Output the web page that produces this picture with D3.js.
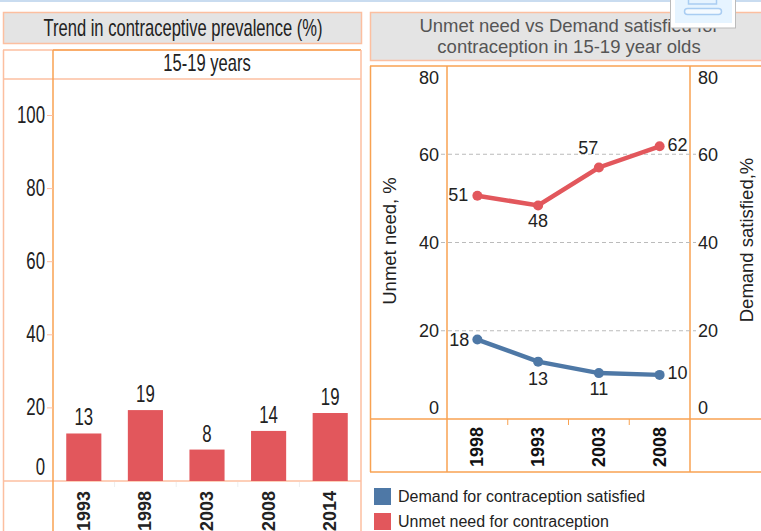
<!DOCTYPE html>
<html>
<head>
<meta charset="utf-8">
<script src="https://cdn.jsdelivr.net/npm/d3@7"></script>
<style>
html, body { margin: 0; padding: 0; background: #fff; overflow: hidden; }
text { font-family: "Liberation Sans", Arial, sans-serif; }
</style>
</head>
<body>
<div id="chart"></div>
<script>
// Left chart data
const barYears = ['1993', '1998', '2003', '2008', '2014'];
const barValues = [13, 19.4, 8.6, 13.7, 18.6];
const barLabels = ['13', '19', '8', '14', '19'];
const barTicks = [0, 20, 40, 60, 80, 100];

// Right chart data
const lineYears = ['1998', '1993', '2003', '2008'];
const unmetValues = [50.6, 48.4, 57, 61.8];
const unmetLabels = ['51', '48', '57', '62'];
const demandValues = [18, 13, 10.4, 10];
const demandLabels = ['18', '13', '11', '10'];
const lineTicks = [0, 20, 40, 60, 80];
const legendItems = ['Demand for contraception satisfied', 'Unmet need for contraception'];

const red = '#e2575c';
const blue = '#4e78a6';
const orange = '#f8a252';
const paleOrange = '#fcbfa0';
const grey = '#e4e4e4';
const textColor = '#222';

const svg = d3.select('#chart')
    .append('svg')
    .attr('width', 761)
    .attr('height', 531)
    .style('display', 'block');

// Draws text squeezed sideways, the left chart uses a narrow look
function squeezed(g, x, y, str, size, sx, anchor, color) {
    return g.append('text')
        .attr('transform', `translate(${x},${y}) scale(${sx},1)`)
        .attr('text-anchor', anchor || 'middle')
        .attr('font-size', size)
        .attr('fill', color || textColor)
        .text(str);
}

function hline(x1, x2, y, color, w) {
    svg.append('line').attr('x1', x1).attr('x2', x2).attr('y1', y).attr('y2', y)
        .attr('stroke', color).attr('stroke-width', w || 1.5);
}
function vline(x, y1, y2, color, w) {
    svg.append('line').attr('x1', x).attr('x2', x).attr('y1', y1).attr('y2', y2)
        .attr('stroke', color).attr('stroke-width', w || 1.5);
}

// Page strip on top
svg.append('rect').attr('width', 761).attr('height', 2).attr('fill', '#c9dcf0');

// ---- Left chart ----
svg.append('rect').attr('x', 3.5).attr('y', 12.5).attr('width', 358).attr('height', 31)
    .attr('fill', grey).attr('stroke', paleOrange).attr('stroke-width', 1.5);
squeezed(svg, 183, 36, 'Trend in contraceptive prevalence (%)', 23, 0.72);

const barX = d3.scaleBand().domain(barYears).range([53, 361]).paddingInner(0.43).paddingOuter(0.215);
const barY = d3.scaleLinear().domain([0, 100]).range([481, 115.5]);

hline(3, 361, 50, paleOrange);
hline(53, 361, 50, orange);
hline(3, 361, 79, paleOrange);
hline(3, 361, 481, paleOrange);
vline(3.5, 50, 531, paleOrange);
vline(53, 50, 531, orange);
vline(361, 50, 531, paleOrange);
squeezed(svg, 207, 71, '15-19 years', 23, 0.72);

barTicks.forEach(t => {
    squeezed(svg, 45, t === 0 ? 475 : barY(t) + 7.5, t, 23, 0.73, 'end');
    if (t > 0) hline(47, 53, barY(t), paleOrange, 1);
});

svg.selectAll('.bar').data(barYears).join('rect')
    .attr('class', 'bar')
    .attr('x', d => barX(d))
    .attr('y', (d, i) => barY(barValues[i]))
    .attr('width', barX.bandwidth())
    .attr('height', (d, i) => barY(0) - barY(barValues[i]))
    .attr('fill', red);

barYears.forEach((d, i) => {
    const mid = barX(d) + barX.bandwidth() / 2;
    squeezed(svg, mid, barY(barValues[i]) - 8, barLabels[i], 23, 0.73);
    svg.append('text')
        .attr('transform', `translate(${mid + 6},531) rotate(-90)`)
        .attr('font-size', 18).attr('font-weight', 'bold').attr('fill', textColor)
        .text(d);
    // faint separators under the baseline
    if (i > 0) vline(barX(d) - barX.step() * 0.215, 482, 487, '#eeeeee', 1);
});

// ---- Right chart ----
svg.append('rect').attr('x', 370.5).attr('y', 12.5).attr('width', 400).attr('height', 48)
    .attr('fill', grey).attr('stroke', paleOrange).attr('stroke-width', 1.5);
svg.append('text').attr('x', 569).attr('y', 32).attr('text-anchor', 'middle')
    .attr('font-size', 18.5).attr('fill', '#555').text('Unmet need vs Demand satisfied for');
svg.append('text').attr('x', 569).attr('y', 53).attr('text-anchor', 'middle')
    .attr('font-size', 18.5).attr('fill', '#555').text('contraception in 15-19 year olds');

const lineX = d3.scaleBand().domain(lineYears).range([447, 690]);
const lineY = d3.scaleLinear().domain([0, 80]).range([419, 66]);
const cx = d => lineX(d) + lineX.bandwidth() / 2;

hline(370, 761, 66, orange);
hline(370, 761, 419, orange);
hline(370, 761, 472, orange);
vline(370.5, 66, 472, orange);
vline(447, 66, 472, orange);
vline(690, 66, 472, orange);

// Grid lines run a little past both frame lines
[20, 40, 60].forEach(t => {
    svg.append('line').attr('x1', 441).attr('x2', 696)
        .attr('y1', lineY(t)).attr('y2', lineY(t))
        .attr('stroke', '#bbb').attr('stroke-dasharray', '4 3');
});

lineTicks.forEach(t => {
    const y = t === 80 ? 83.5 : t === 0 ? 413.5 : lineY(t) + 6.5;
    svg.append('text').attr('x', 439).attr('y', y).attr('text-anchor', 'end')
        .attr('font-size', 18).attr('fill', textColor).text(t);
    svg.append('text').attr('x', 698).attr('y', y)
        .attr('font-size', 18).attr('fill', textColor).text(t);
});

const line = d3.line().x((d, i) => cx(lineYears[i])).y(d => lineY(d));
[[unmetValues, red], [demandValues, blue]].forEach(([vals, color]) => {
    svg.append('path').datum(vals).attr('d', line)
        .attr('fill', 'none').attr('stroke', color).attr('stroke-width', 4.5);
    svg.selectAll(null).data(vals).join('circle')
        .attr('cx', (d, i) => cx(lineYears[i])).attr('cy', d => lineY(d))
        .attr('r', 5).attr('fill', color);
});

// Point labels sit on different sides of the points
const unmetOffsets = [[-19, 5], [0, 22], [-10.5, -13], [18, 5]];
const demandOffsets = [[-18, 6], [0, 23], [0, 22], [18, 4.5]];
function pointLabels(vals, labels, offsets) {
    vals.forEach((v, i) => {
        svg.append('text')
            .attr('x', cx(lineYears[i]) + offsets[i][0])
            .attr('y', lineY(v) + offsets[i][1])
            .attr('text-anchor', 'middle')
            .attr('font-size', 18).attr('fill', textColor).text(labels[i]);
    });
}
pointLabels(unmetValues, unmetLabels, unmetOffsets);
pointLabels(demandValues, demandLabels, demandOffsets);

// Axis titles
svg.append('text').attr('transform', 'translate(396,241) rotate(-90)').attr('text-anchor', 'middle')
    .attr('font-size', 18.5).attr('fill', textColor).text('Unmet need, %');
svg.append('text').attr('transform', 'translate(753,240) rotate(-90)').attr('text-anchor', 'middle')
    .attr('font-size', 18.5).attr('fill', textColor).text('Demand satisfied,%');

// Ticks and years under the line chart
lineYears.forEach((d, i) => {
    if (i > 0) vline(lineX(d), 419, 425, orange, 1);
    svg.append('text')
        .attr('transform', `translate(${cx(d) + 6},467) rotate(-90)`)
        .attr('font-size', 18).attr('font-weight', 'bold').attr('fill', '#111')
        .text(d);
});

// Legend
legendItems.forEach((d, i) => {
    const y = 488 + i * 25;
    svg.append('rect').attr('x', 374).attr('y', y).attr('width', 17).attr('height', 17)
        .attr('fill', i === 0 ? blue : red);
    svg.append('text').attr('x', 398).attr('y', y + 14).attr('font-size', 16)
        .attr('fill', textColor).text(d);
});

// Floating toolbar button over the title
svg.append('rect').attr('x', 670.5).attr('y', -2).attr('width', 65).attr('height', 30)
    .attr('fill', '#fff').attr('stroke', '#bbb');
svg.append('rect').attr('x', 675).attr('y', -2).attr('width', 57).attr('height', 25).attr('fill', '#e6f4ff');
svg.append('rect').attr('x', 688.5).attr('y', -3).attr('width', 28).attr('height', 7)
    .attr('fill', 'none').attr('stroke', '#a9cdf2').attr('stroke-width', 1.5);
svg.append('rect').attr('x', 684.5).attr('y', 8.5).attr('width', 37).attr('height', 6).attr('rx', 3)
    .attr('fill', '#f4faff').attr('stroke', '#a9cdf2').attr('stroke-width', 1.5);
</script>
</body>
</html>
